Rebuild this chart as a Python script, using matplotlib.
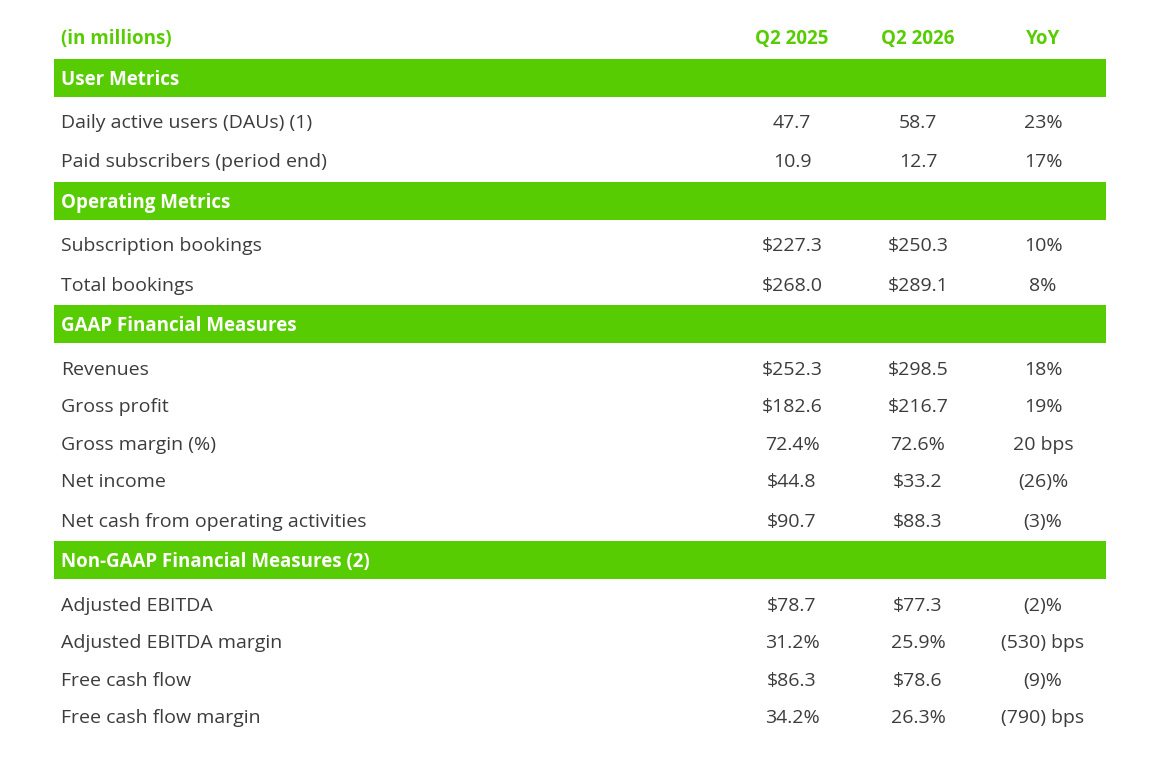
import matplotlib.pyplot as plt
from matplotlib.patches import Rectangle

# dados da tabela
colunas = ['Q2 2025', 'Q2 2026', 'YoY']
secoes = ['User Metrics', 'Operating Metrics', 'GAAP Financial Measures',
          'Non-GAAP Financial Measures (2)']
linhas_por_secao = [
    ['Daily active users (DAUs) (1)', 'Paid subscribers (period end)'],
    ['Subscription bookings', 'Total bookings'],
    ['Revenues', 'Gross profit', 'Gross margin (%)', 'Net income',
     'Net cash from operating activities'],
    ['Adjusted EBITDA', 'Adjusted EBITDA margin', 'Free cash flow',
     'Free cash flow margin'],
]
q2_2025 = [['47.7', '10.9'],
           ['$227.3', '$268.0'],
           ['$252.3', '$182.6', '72.4%', '$44.8', '$90.7'],
           ['$78.7', '31.2%', '$86.3', '34.2%']]
q2_2026 = [['58.7', '12.7'],
           ['$250.3', '$289.1'],
           ['$298.5', '$216.7', '72.6%', '$33.2', '$88.3'],
           ['$77.3', '25.9%', '$78.6', '26.3%']]
yoy = [['23%', '17%'],
       ['10%', '8%'],
       ['18%', '19%', '20 bps', '(26)%', '(3)%'],
       ['(2)%', '(530) bps', '(9)%', '(790) bps']]

# layout (pixels)
verde = '#58cc02'
cinza = '#3c3c3c'
plt.rcParams['font.family'] = ['Open Sans', 'DejaVu Sans']
W, H = 1162, 758
col_x = [792, 918, 1043]
barra_topo = [59, 182, 305, 541]
linhas_y = [[121, 160], [244, 284], [368, 405, 443, 480, 520], [604, 641, 679, 716]]
fs = 14
fs_b = 13.5
dy = 2

fig = plt.figure(figsize=(W / 100, H / 100), dpi=100)
ax = fig.add_axes([0, 0, 1, 1])
ax.set_xlim(0, W)
ax.set_ylim(H, 0)
ax.axis('off')

# cabeçalho
ax.text(61, 37 + dy, '(in millions)', color=verde, fontsize=fs_b, fontweight='bold', va='center')
for x, c in zip(col_x, colunas):
    ax.text(x, 37 + dy, c, color=verde, fontsize=fs_b, fontweight='bold', va='center', ha='center')

for i, sec in enumerate(secoes):
    y0 = barra_topo[i]
    ax.add_patch(Rectangle((54, y0), 1052, 38, color=verde, lw=0))
    ax.text(61, y0 + 19 + dy, sec, color='white', fontsize=fs_b, fontweight='bold', va='center')
    for j, nome in enumerate(linhas_por_secao[i]):
        y = linhas_y[i][j] + dy
        ax.text(61, y, nome, color=cinza, fontsize=fs, va='center')
        for x, v in zip(col_x, [q2_2025[i][j], q2_2026[i][j], yoy[i][j]]):
            ax.text(x, y, v, color=cinza, fontsize=fs, va='center', ha='center')

fig.savefig('out.png', dpi=100)
